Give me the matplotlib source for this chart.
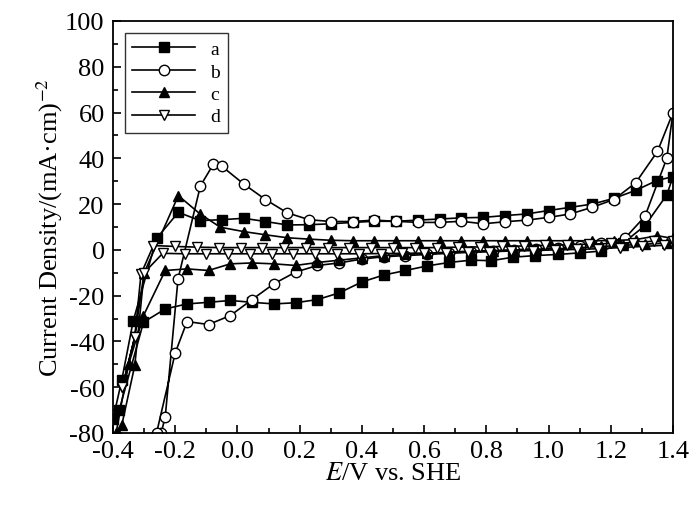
import matplotlib
matplotlib.use("Agg")
import matplotlib.pyplot as plt
from matplotlib.ticker import MultipleLocator

plt.rcParams['font.family'] = ['Liberation Serif', 'DejaVu Serif']
plt.rcParams['mathtext.fontset'] = 'stix'
plt.rcParams['axes.unicode_minus'] = False

# Series a (filled squares): closed CV loop
a_x = [-0.40, -0.372, -0.335, -0.26, -0.19, -0.12, -0.05, 0.02, 0.09, 0.16, 0.23, 0.30, 0.37, 0.44, 0.51,
       0.58, 0.65, 0.72, 0.79, 0.86, 0.93, 1.00, 1.07, 1.14, 1.21, 1.28, 1.348, 1.40,
       1.38, 1.31, 1.24, 1.17, 1.10, 1.03, 0.955, 0.886, 0.816, 0.75, 0.68, 0.61, 0.54, 0.47, 0.40,
       0.327, 0.257, 0.187, 0.117, 0.047, -0.023, -0.093, -0.162, -0.232, -0.302, -0.38]
a_y = [-74, -57, -31, 5, 16.4, 12.8, 13.2, 13.8, 12.4, 10.9, 11.0, 11.4, 12, 12.5, 12.5,
       13, 13.5, 14, 14.2, 15, 15.7, 17.2, 18.6, 20, 22.5, 26, 30.3, 32,
       24, 10.6, 3, -0.5, -1.3, -2, -2.5, -3.2, -4.7, -4.5, -5.5, -7, -9, -11, -14,
       -18.8, -21.7, -23.1, -23.6, -22.9, -22.1, -22.9, -23.6, -25.8, -31.6, -70]

# Series b (open circles)
b_x = [-0.245, -0.232, -0.191, -0.119, -0.077, -0.05, 0.02, 0.09, 0.16, 0.23, 0.30, 0.37, 0.44, 0.51,
       0.58, 0.65, 0.72, 0.79, 0.86, 0.93, 1.00, 1.07, 1.14, 1.21, 1.28, 1.35, 1.40,
       1.38, 1.31, 1.245, 1.17, 1.10, 1.03, 0.96, 0.89, 0.82, 0.75, 0.68, 0.61, 0.54, 0.47, 0.40,
       0.327, 0.257, 0.187, 0.117, 0.047, -0.023, -0.093, -0.162, -0.20, -0.26]
b_y = [-80, -72.8, -12.7, 28, 37.5, 36.5, 28.8, 22, 16.2, 13.2, 12.4, 12.4, 13, 12.5,
       12, 12, 12.5, 11.4, 12.3, 13, 14.2, 15.7, 18.6, 22, 29.3, 43, 60,
       40, 14.7, 5, 3, 1.5, 1, 0.5, 0, -0.5, -1, -1.5, -2, -2.5, -3, -4,
       -5.7, -6.8, -9.7, -14.8, -21.7, -28.7, -32.6, -31.3, -45, -80]

# Series c (filled triangles)
c_x = [-0.385, -0.372, -0.33, -0.30, -0.19, -0.12, -0.055, 0.02, 0.09, 0.16, 0.23, 0.30, 0.37, 0.44,
       0.51, 0.58, 0.65, 0.72, 0.79, 0.86, 0.93, 1.00, 1.07, 1.14, 1.21, 1.28, 1.35, 1.40,
       1.38, 1.31, 1.24, 1.17, 1.10, 1.03, 0.96, 0.89, 0.82, 0.75, 0.68, 0.61, 0.54, 0.47, 0.40,
       0.327, 0.257, 0.187, 0.117, 0.047, -0.023, -0.093, -0.162, -0.232, -0.302, -0.35, -0.39]
c_y = [-80, -76.7, -50.5, -10, 23.7, 15.7, 9.9, 8, 6.6, 5.3, 4.7, 4.2, 4, 4,
       4, 4, 4, 4, 4, 4, 4, 4, 4, 4, 4.1, 4.5, 6.2, 5,
       3, 2.5, 2, 1.5, 1, 0.5, 0.3, 0, -0.3, -0.5, -1, -1.5, -2, -2.5, -3.5,
       -4.5, -5.5, -6.8, -6.1, -5.7, -6.1, -9, -8.3, -9, -28.7, -50, -80]

# Series d (open down-triangles)
d_x = [-0.37, -0.33, -0.31, -0.27, -0.20, -0.13, -0.06, 0.01, 0.08, 0.15, 0.22, 0.29, 0.36, 0.43, 0.50,
       0.57, 0.64, 0.71, 0.78, 0.85, 0.92, 0.99, 1.06, 1.13, 1.20, 1.27, 1.34, 1.40,
       1.37, 1.30, 1.23, 1.16, 1.09, 1.02, 0.95, 0.88, 0.81, 0.74, 0.67, 0.60, 0.53, 0.46, 0.39,
       0.32, 0.25, 0.18, 0.11, 0.04, -0.03, -0.10, -0.17, -0.24, -0.30, -0.33, -0.37]
d_y = [-60, -38, -10.5, 1.9, 1.5, 1.2, 1.0, 1.0, 1.0, 1.0, 1.0, 1.0, 1.0, 1.0, 1.0,
       1.0, 1.0, 1.2, 1.3, 1.5, 1.7, 2.0, 2.2, 2.5, 2.8, 3.2, 3.8, 4.0,
       2.0, 1.5, 1.0, 0.5, 0.2, 0, -0.3, -0.5, -0.8, -1.0, -1.2, -1.4, -1.5, -1.6, -1.7,
       -1.7, -1.7, -1.7, -1.7, -1.7, -1.7, -1.7, -1.7, -1.5, -10, -38, -60]

labels = ['a', 'b', 'c', 'd']

fig = plt.figure(figsize=(7.0, 5.1), dpi=100)
ax = fig.add_axes([113/700, 1-434/510, 560/700, 412/510])

ms = 6.5
ax.plot(a_x, a_y, '-', color='black', lw=1.2, marker='s', ms=ms, mfc='black', mec='black', label=labels[0])
ax.plot(b_x, b_y, '-', color='black', lw=1.2, marker='o', ms=ms + 1, mfc='white', mec='black', label=labels[1])
ax.plot(c_x, c_y, '-', color='black', lw=1.2, marker='^', ms=ms + 1, mfc='black', mec='black', label=labels[2])
ax.plot(d_x, d_y, '-', color='black', lw=1.2, marker='v', ms=ms + 1, mfc='white', mec='black', label=labels[3])

ax.set_xlim(-0.4, 1.4)
ax.set_ylim(-80, 100)
ax.xaxis.set_major_locator(MultipleLocator(0.2))
ax.xaxis.set_minor_locator(MultipleLocator(0.1))
ax.yaxis.set_major_locator(MultipleLocator(20))
ax.yaxis.set_minor_locator(MultipleLocator(10))
ax.xaxis.set_major_formatter(matplotlib.ticker.FuncFormatter(lambda v, p: f"{v:.1f}".replace("-0.0", "0.0")))
ax.tick_params(which='both', direction='in', labelsize=19, width=1.2)
ax.tick_params(axis='x', pad=5)
ax.tick_params(axis='y', pad=6)
ax.tick_params(which='major', length=6)
ax.tick_params(which='minor', length=3.5)
for s in ax.spines.values():
    s.set_linewidth(1.3)

ax.set_xlabel('$\\it{E}$/V vs. SHE', fontsize=19, labelpad=0)
ax.set_ylabel('Current Density/(mA·cm)$^{-2}$', fontsize=19, labelpad=0)

leg = ax.legend(loc='upper left', fontsize=14, frameon=True, fancybox=False, edgecolor='black',
                handlelength=3.2, borderaxespad=0.6, labelspacing=0.25)
leg.get_frame().set_linewidth(1.0)

fig.savefig('out.png', dpi=100)
